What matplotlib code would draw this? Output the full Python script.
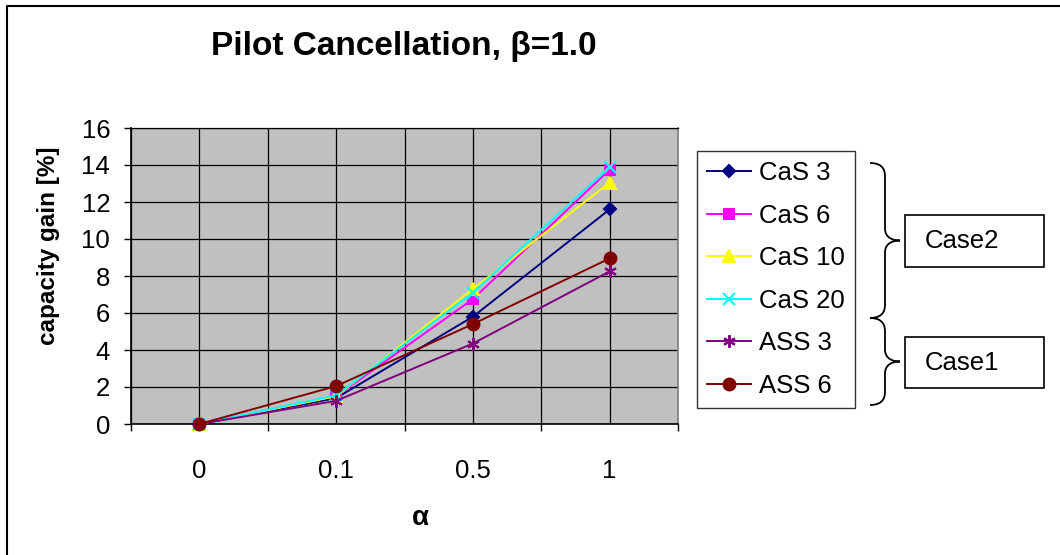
import matplotlib
matplotlib.use("Agg")
from matplotlib import pyplot as plt
from matplotlib.path import Path
from matplotlib.patches import PathPatch, Rectangle
from matplotlib.lines import Line2D

plt.rcParams['font.family'] = ['Liberation Sans', 'DejaVu Sans']

# data
alpha_labels = ['0', '0.1', '0.5', '1']
cas3 = [0.0, 1.40, 5.80, 11.60]
cas6 = [0.0, 1.50, 6.75, 13.75]
cas10 = [0.0, 1.50, 7.30, 13.05]
cas20 = [0.0, 1.55, 7.10, 13.90]
ass3 = [0.0, 1.25, 4.35, 8.25]
ass6 = [0.0, 2.05, 5.40, 8.95]

series_names = ['CaS 3', 'CaS 6', 'CaS 10', 'CaS 20', 'ASS 3', 'ASS 6']
series_values = [cas3, cas6, cas10, cas20, ass3, ass6]
colors = ['#000080', '#FF00FF', '#FFFF00', '#00FFFF', '#800080', '#800000']
markers = ['D', 's', '^', 'x', (6, 2, 0), 'o']
msizes = [6, 7.5, 8.5, 8, 9, 8.5]

W, H = 1060, 555
fig = plt.figure(figsize=(W / 100, H / 100), dpi=100)


def fx(x):
    return x / W


def fy(y):
    return 1 - y / H


# plot area
ax = fig.add_axes([fx(131), fy(424), fx(678) - fx(131), fy(128) - fy(424)])
ax.set_facecolor('#C0C0C0')

x = list(range(len(alpha_labels)))
for name, vals, c, m, ms in zip(series_names, series_values, colors, markers, msizes):
    ax.plot(x, vals, color=c, lw=1.4, marker=m, ms=ms, mfc=c, mec=c,
            mew=1.5, label=name, clip_on=False, zorder=3)

ax.set_xlim(-0.5, 3.5)
ax.set_ylim(0, 16)
ax.set_yticks(range(0, 17, 2))
ax.set_xticks(x)
ax.set_xticklabels(alpha_labels)
ax.set_xticks([i - 0.5 for i in range(5)], minor=True)
ax.tick_params(axis='x', which='major', length=0, pad=25, labelsize=18.5)
ax.tick_params(axis='x', which='minor', length=5, width=1, direction='out')
ax.tick_params(axis='y', length=5, width=1, direction='out', pad=10, labelsize=18.5)

ax.grid(True, axis='x', which='both', color='black', lw=0.9)
ax.grid(True, axis='y', which='major', color='black', lw=0.9)
ax.set_axisbelow(True)
for s in ['left', 'bottom']:
    ax.spines[s].set_color('black')
    ax.spines[s].set_linewidth(1.2)
ax.spines['top'].set_color('black')
ax.spines['top'].set_linewidth(0.9)
ax.spines['right'].set_color('#808080')
ax.spines['right'].set_linewidth(1.2)

# titles
fig.text(fx(404), fy(47), 'Pilot Cancellation, \u03b2=1.0', fontsize=24,
         fontweight='bold', ha='center', va='center')
fig.text(fx(49), fy(246), 'capacity gain [%]', fontsize=17.5, fontweight='bold',
         rotation=90, ha='center', va='center')
fig.text(fx(420), fy(518), '\u03b1', fontsize=20, fontweight='bold',
         ha='center', va='center')

# legend
leg = fig.legend(loc='upper left', bbox_to_anchor=(fx(697), fy(151)),
                 bbox_transform=fig.transFigure, borderaxespad=0,
                 fontsize=18.5, frameon=True, fancybox=False, edgecolor='black',
                 handlelength=1.7, handletextpad=0.3, labelspacing=0.72,
                 borderpad=0.4)
leg.get_frame().set_linewidth(1.0)

# braces and case boxes
def brace(y0, y1, x0=870, x1=900):
    ym = (y0 + y1) / 2
    xm = (x0 + x1) / 2
    pts = [(x0, y0), (xm, y0), (xm, y0 + 10), (xm, y0 + 14),
           (xm, ym - 12),
           (xm, ym - 2), (x1 - 6, ym), (x1, ym),
           (x1 - 6, ym), (xm, ym + 2), (xm, ym + 12),
           (xm, y1 - 14),
           (xm, y1 - 10), (xm, y1), (x0, y1)]
    codes = [Path.MOVETO, Path.CURVE4, Path.CURVE4, Path.CURVE4,
             Path.LINETO,
             Path.CURVE4, Path.CURVE4, Path.CURVE4,
             Path.CURVE4, Path.CURVE4, Path.CURVE4,
             Path.LINETO,
             Path.CURVE4, Path.CURVE4, Path.CURVE4]
    verts = [(fx(a), fy(b)) for a, b in pts]
    fig.add_artist(PathPatch(Path(verts, codes), fill=False, lw=1.3,
                             edgecolor='black', transform=fig.transFigure))


brace(163, 318)
brace(318, 405)

for label, y0, y1 in [('Case2', 215, 267), ('Case1', 337, 388)]:
    fig.add_artist(Rectangle((fx(905), fy(y1)), fx(1044) - fx(905), fy(y0) - fy(y1),
                             fill=False, lw=1.2, edgecolor='black',
                             transform=fig.transFigure))
    fig.text(fx(925), fy((y0 + y1) / 2), label, fontsize=18.5, ha='left', va='center')

# chart border (only left and top visible)
fig.add_artist(Line2D([fx(7), fx(7), fx(1060)], [fy(555), fy(6), fy(6)],
                      color='black', lw=1.5, transform=fig.transFigure))

plt.savefig('out.png', dpi=100)
plt.close()
